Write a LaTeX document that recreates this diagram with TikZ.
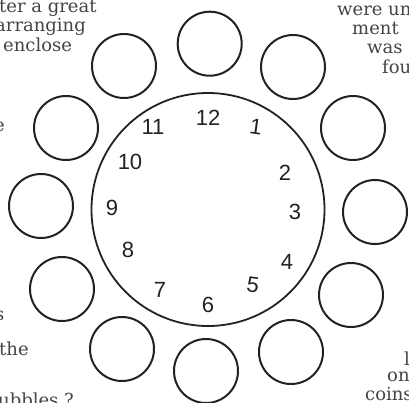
\documentclass[tikz,border=0pt]{standalone}
\usepackage{fontspec}
\newfontfamily\scanserif{DejaVu Serif}
\newfontfamily\dialfont{Liberation Sans}
\definecolor{ink}{HTML}{222222}
\definecolor{printgray}{HTML}{444444}
\begin{document}
\begin{tikzpicture}[x=1pt,y=-1pt,
  coin/.style={circle,draw=ink,line width=2pt,minimum size=64pt,inner sep=0pt},
  dial/.style={circle,draw=ink,line width=1.8pt,minimum size=233pt,inner sep=0pt},
  hour/.style={inner sep=0pt,text=ink,font=\dialfont\fontsize{22}{22}\selectfont},
  prose/.style={inner sep=0pt,anchor=base west,text=printgray,font=\scanserif\fontsize{18}{18}\selectfont}]
\useasboundingbox (0,0) rectangle (409,402);
\clip (0,0) rectangle (409,402);
% clock face
\node[dial] (clock) at (208,209.5) {};
% coins
\node[coin] (c12) at (209.7,43.7) {};
\node[coin] (c1) at (293,67) {};
\node[coin] (c2) at (353,128) {};
\node[coin] (c3) at (375,212) {};
\node[coin] (c4) at (351,295) {};
\node[coin] (c5) at (291,352) {};
\node[coin] (c6) at (206,371) {};
\node[coin] (c7) at (122,349) {};
\node[coin] (c8) at (62,289) {};
\node[coin] (c9) at (41,206) {};
\node[coin] (c10) at (66,128) {};
\node[coin] (c11) at (124,66) {};
% hour numerals
\node[hour] (h12) at (208,118) {12};
\node[hour,rotate=-8] (h1) at (256,127) {1};
\node[hour] (h2) at (285,173) {2};
\node[hour] (h3) at (295,212) {3};
\node[hour] (h4) at (287,262) {4};
\node[hour,rotate=-8] (h5) at (253,285) {5};
\node[hour] (h6) at (208,305) {6};
\node[hour] (h7) at (160,290) {7};
\node[hour] (h8) at (128,250) {8};
\node[hour] (h9) at (112,208) {9};
\node[hour] (h10) at (130,162) {10};
\node[hour] (h11) at (153,127) {11};
% surrounding page text fragments
\node[prose] (t1) at (-1,12.7) {ter a great};
\node[prose] (t2) at (-5,31.7) {arranging};
\node[prose] (t3) at (3,51.5) {enclose};
\node[prose] (t4) at (-6,131) {e};
\node[prose] (t5) at (-5,320) {s};
\node[prose] (t6) at (-1,355) {the};
\node[prose] (t7) at (-2,406) {ubbles ?};
\node[prose] (r1) at (337,15) {were un};
\node[prose] (r2) at (352,34) {ment};
\node[prose] (r3) at (367,53) {was};
\node[prose] (r4) at (382,73) {fou};
\node[prose] (r5) at (404,365) {l};
\node[prose] (r6) at (387,381) {on};
\node[prose] (r7) at (365,400) {coins};
\end{tikzpicture}
\end{document}
